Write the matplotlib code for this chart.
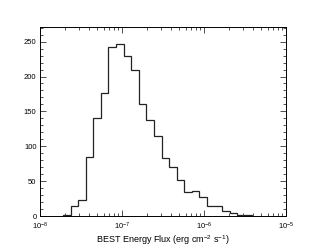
import numpy as np
import matplotlib
matplotlib.use("Agg")
import matplotlib.pyplot as plt
from matplotlib.ticker import MultipleLocator, LogLocator, NullFormatter

plt.rcParams['font.family'] = ['Liberation Sans', 'DejaVu Sans']
plt.rcParams['mathtext.fontset'] = 'custom'
plt.rcParams['mathtext.rm'] = 'Liberation Sans'
plt.rcParams['mathtext.it'] = 'Liberation Sans'

log_start = -7.719
log_step = 0.0924
counts = [1, 15, 23, 84, 141, 176, 242, 246, 229, 209, 161, 137, 114, 83,
          70, 52, 35, 36, 27, 14, 15, 7, 5, 2, 1]
xlabel = "BEST Energy Flux (erg cm$^{-2}$ s$^{-1}$)"

edges = 10 ** (log_start + log_step * np.arange(len(counts) + 1))

fig = plt.figure(figsize=(3.11, 2.49), dpi=100)
ax = fig.add_axes([0.1286, 0.1325, 0.7910, 0.7591])
ax.stairs(counts, edges, color='#222222', linewidth=0.9)
ax.set_xscale('log')
ax.set_xlim(1e-8, 1e-5)
ax.set_ylim(0, 271)
ax.yaxis.set_major_locator(MultipleLocator(50))
ax.yaxis.set_minor_locator(MultipleLocator(10))
ax.xaxis.set_major_locator(LogLocator(base=10, numticks=10))
ax.xaxis.set_minor_locator(LogLocator(base=10, subs=np.arange(2, 10), numticks=20))
ax.xaxis.set_minor_formatter(NullFormatter())
ax.tick_params(which='both', direction='in', top=True, right=True, labelsize=5.5, width=0.6, color='#333333')
ax.tick_params(axis='x', pad=3.5)
ax.tick_params(axis='y', pad=2.5)
ax.tick_params(which='major', length=4)
ax.tick_params(which='minor', length=2)
for s in ax.spines.values():
    s.set_linewidth(0.7)
ax.set_xlabel(xlabel, fontsize=6.5, labelpad=1)
fig.savefig("out.png", dpi=100)
